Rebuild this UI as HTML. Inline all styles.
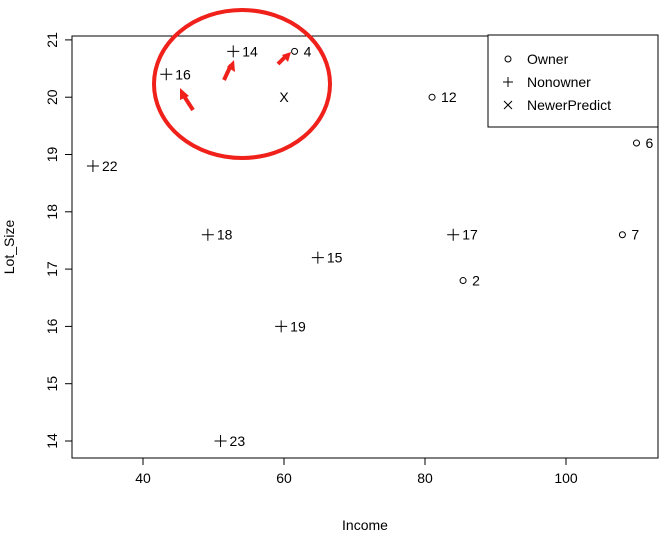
<!DOCTYPE html>
<html><head><meta charset="utf-8"><style>
body{margin:0;background:#fff}
svg text{font-family:"Liberation Sans",Arial,sans-serif;font-size:14px;fill:#000}
</style></head><body>
<svg width="671" height="544" xmlns="http://www.w3.org/2000/svg">
<g id="axes"></g><g id="pts"></g>
<g>
<rect x="488" y="35" width="170" height="92" fill="#fff" stroke="#000"/>
<circle cx="508" cy="59" r="3" fill="none" stroke="#000"/>
<text x="527" y="64">Owner</text>
<path d="M503 82h10M508 77v10" stroke="#000"/>
<text x="527" y="87">Nonowner</text>
<path d="M504 101l8 8M512 101l-8 8" stroke="#000"/>
<text x="527" y="110">NewerPredict</text>
</g>
<g>
<ellipse cx="242" cy="84" rx="88" ry="74" fill="none" stroke="#f0201a" stroke-width="4"/>
<path d="M193 110L182 93" stroke="#f0201a" stroke-width="4"/><polygon points="180,88 189,96 180,100" fill="#f0201a"/>
<path d="M224 80L231 65" stroke="#f0201a" stroke-width="4"/><polygon points="234,60 235,72 227,67" fill="#f0201a"/>
<path d="M278 64L286 56" stroke="#f0201a" stroke-width="4"/><polygon points="291,52 288,62 282,55" fill="#f0201a"/>
</g>
</svg>
<script>
const xTicks=[40,60,80,100];
const yTicks=[14,15,16,17,18,19,20,21];
const ownerIncome=[61.5,81,110,108,85.4];
const ownerLot=[20.8,20,19.2,17.6,16.8];
const ownerId=["4","12","6","7","2"];
const nonIncome=[52.8,43.3,32.9,49.2,64.8,59.6,51,84];
const nonLot=[20.8,20.4,18.8,17.6,17.2,16,14,17.6];
const nonId=["14","16","22","18","15","19","23","17"];
const predIncome=[60];
const predLot=[20];
const X=v=>143+(v-40)*7.05, Y=v=>441-(v-14)*57.3;
const NS="http://www.w3.org/2000/svg";
function mk(t,a,p,txt){const e=document.createElementNS(NS,t);for(const k in a)e.setAttribute(k,a[k]);if(txt!=null)e.textContent=txt;p.appendChild(e);return e;}
const ax=document.getElementById('axes'),pg=document.getElementById('pts');
const box=mk('rect',{x:72,y:36,width:586,height:422,fill:'none',stroke:'#000'},ax);


mk('line',{x1:X(40),x2:X(100),y1:458,y2:458,stroke:'#000'},ax);
xTicks.forEach(t=>{mk('line',{x1:X(t),x2:X(t),y1:458,y2:465,stroke:'#000'},ax);
const l=mk('text',{x:X(t),y:483,'text-anchor':'middle'},ax,t);

});
mk('line',{x1:72,x2:72,y1:Y(14),y2:Y(21),stroke:'#000'},ax);
yTicks.forEach(t=>{mk('line',{x1:65,x2:72,y1:Y(t),y2:Y(t),stroke:'#000'},ax);
const l=mk('text',{x:57,y:Y(t),'text-anchor':'middle',transform:`rotate(-90 57 ${Y(t)})`},ax,t);

});
const xt=mk('text',{x:365,y:530,'text-anchor':'middle'},ax,'Income');


const yt=mk('text',{x:14,y:247,'text-anchor':'middle',transform:'rotate(-90 14 247)'},ax,'Lot_Size');


ownerIncome.forEach((v,i)=>{const x=X(v),y=Y(ownerLot[i]);
const c=mk('circle',{cx:x,cy:y,r:3,fill:'none',stroke:'#000'},pg);


mk('text',{x:x+9,y:y+5},pg,ownerId[i]);});
nonIncome.forEach((v,i)=>{const x=X(v),y=Y(nonLot[i]);
const c=mk('path',{d:`M${x-6} ${y}h12M${x} ${y-6}v12`,stroke:'#000'},pg);


mk('text',{x:x+9,y:y+5},pg,nonId[i]);});
predIncome.forEach((v,i)=>{const t=mk('text',{x:X(v),y:Y(predLot[i])+5,'text-anchor':'middle'},pg,'X');

});
</script>
</body></html>
